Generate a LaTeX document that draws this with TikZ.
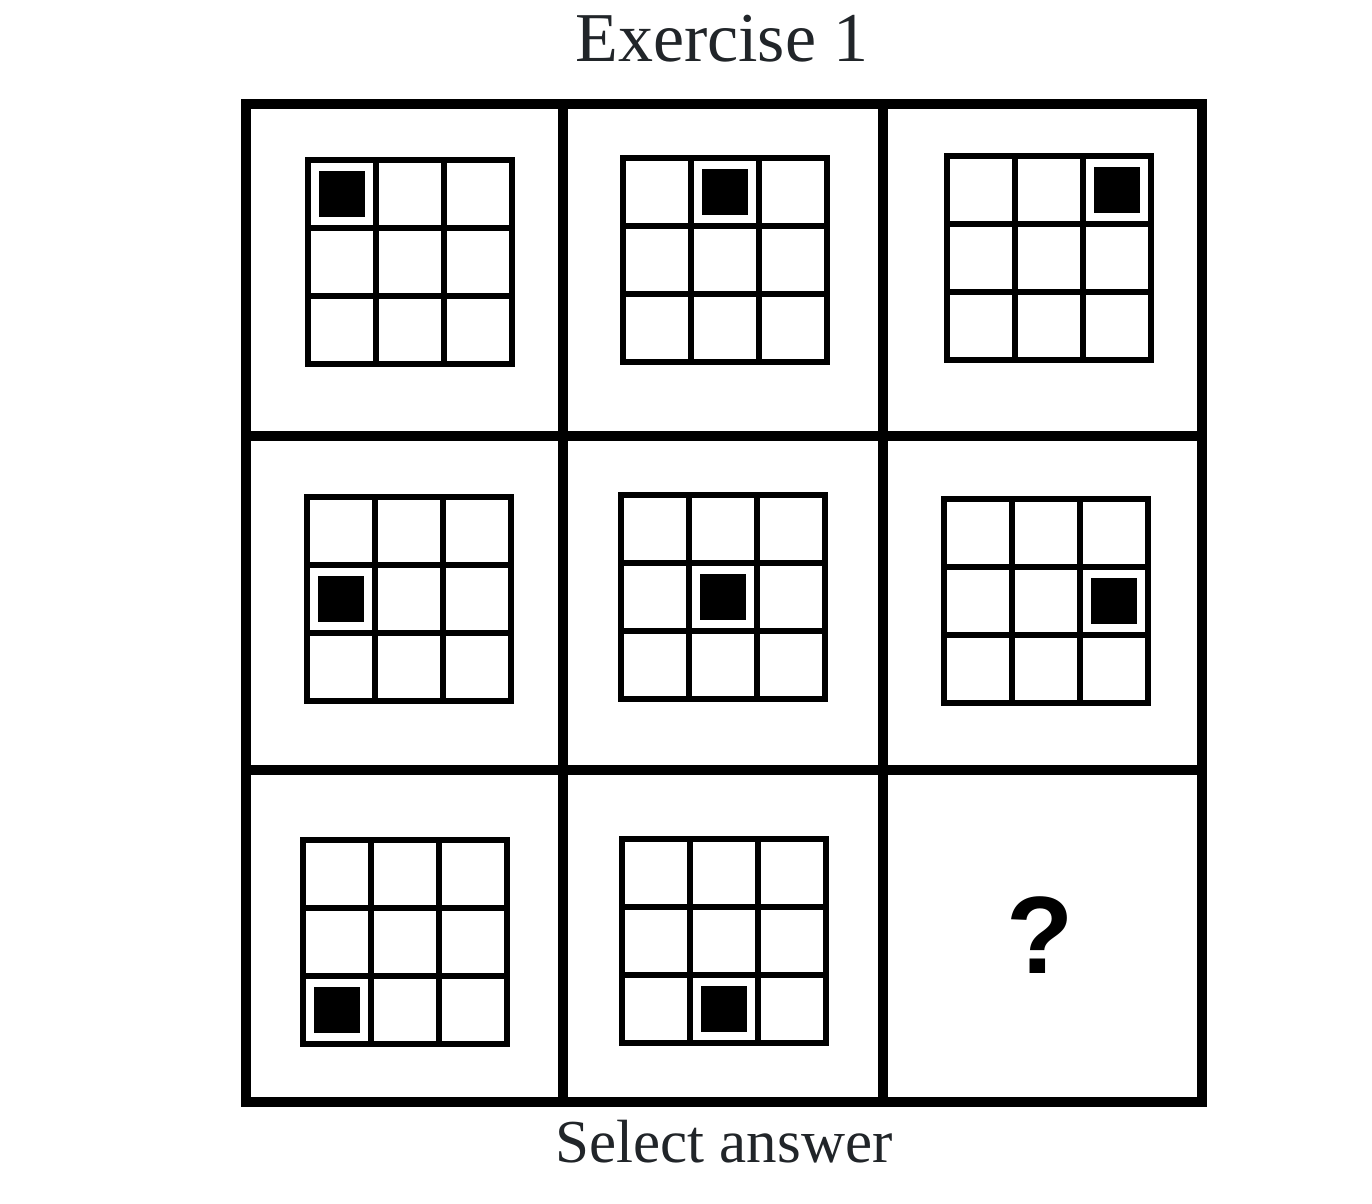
\documentclass[tikz,border=0pt]{standalone}
\usepackage{fontspec}
\setmainfont{Liberation Serif}
\setsansfont{Liberation Sans}
\definecolor{textgray}{HTML}{212529}
\tikzset{
  frame/.style={line width=5pt},
  gridline/.style={line width=2.6pt},
  caption/.style={anchor=base, inner sep=0pt, text=textgray},
}

\begin{document}
\begin{tikzpicture}[x=0.5pt, y=-0.5pt]
\useasboundingbox (0,0) rectangle (1372,1204);
\def\s{68}
\def\m{11}

% outer frame and separators
\draw[frame] (246,104) rectangle (1202,1102);
\draw[frame] (563,104) -- (563,1102);
\draw[frame] (883,104) -- (883,1102);
\draw[frame] (246,436) -- (1202,436);
\draw[frame] (246,770) -- (1202,770);

% small 3x3 grids, x/y of top left corner, column/row of the black square
\foreach \gx/\gy/\mc/\mr in {308/160/1/1, 623/158/2/1, 947/156/3/1,
                             307/497/1/2, 621/495/2/2, 944/499/3/2,
                             303/840/1/3, 622/839/2/3}{
  \begin{scope}[shift={(\gx,\gy)}]
    \draw[gridline] (0,0) rectangle (3*\s,3*\s);
    \draw[gridline] (\s,0) -- (\s,3*\s) (2*\s,0) -- (2*\s,3*\s);
    \draw[gridline] (0,\s) -- (3*\s,\s) (0,2*\s) -- (3*\s,2*\s);
    \fill ({(\mc-1)*\s+\m},{(\mr-1)*\s+\m}) rectangle +(46,46);
  \end{scope}
}

\node[anchor=center, inner sep=0pt] (qmark) at (1040,935) {\sffamily\bfseries\fontsize{55pt}{60pt}\selectfont ?};

\node[caption] (title) at (722,62) {\fontsize{35pt}{40pt}\selectfont Exercise 1};
\node[caption] (answer) at (724,1162) {\fontsize{30.5pt}{36pt}\selectfont Select answer};
\end{tikzpicture}
\end{document}
